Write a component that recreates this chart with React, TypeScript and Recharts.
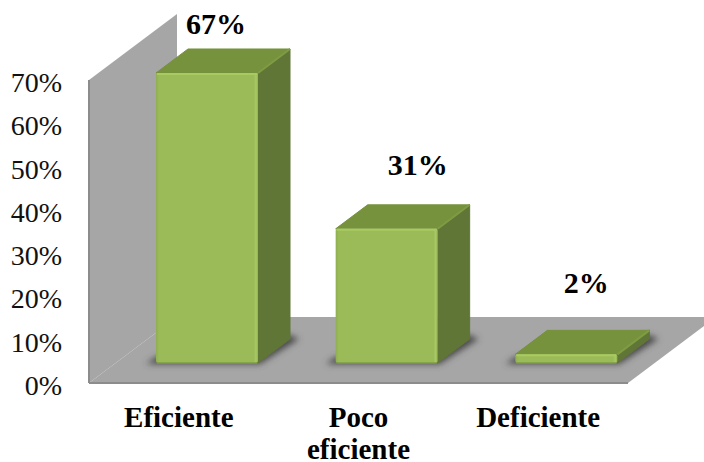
import React from 'react';
import { BarChart, Bar, XAxis, YAxis, ReferenceArea, LabelList } from 'recharts';

const categories = ['Eficiente', 'Poco eficiente', 'Deficiente'];
const shares = [67, 31, 2];
const yTicks = [0, 10, 20, 30, 40, 50, 60, 70];

const data = categories.map((name, i) => ({ name, share: shares[i] }));

// Pseudo-3D box geometry, in pixels
const WALL_DX = 88;
const WALL_DY = 66;
const BAR_SHIFT_X = 28;
const BAR_SHIFT_Y = 20;
const BOX_DX = 32;
const BOX_DY = 24;

// Hand-placed value labels: offset from the top-centre of each bar's front face
const labelNudge = [
  { dx: 9, dy: -39 },
  { dx: 31, dy: -54 },
  { dx: 20, dy: -61 },
];

const SERIF = '"Liberation Serif", "Times New Roman", serif';

// Back wall and floor of the 3D plot box
const Backdrop = ({ x, y, width, height }: any) => {
  const bottom = y + height;
  const right = x + width;
  return (
    <g>
      <defs>
        <filter id="floorShadow" x="-30%" y="-60%" width="160%" height="220%">
          <feGaussianBlur stdDeviation="3" />
        </filter>
        <linearGradient id="frontFace" x1="0" y1="0" x2="1" y2="0">
          <stop offset="0" stopColor="#8fae50" />
          <stop offset="0.03" stopColor="#9bbb59" />
          <stop offset="0.96" stopColor="#9bbb59" />
          <stop offset="0.98" stopColor="#a8ca62" />
          <stop offset="1" stopColor="#93b254" />
        </linearGradient>
      </defs>
      <polygon
        points={`${x},${y} ${x + WALL_DX},${y - WALL_DY} ${x + WALL_DX},${bottom - WALL_DY} ${x},${bottom}`}
        fill="#a6a6a6"
      />
      <polygon
        points={`${x},${bottom} ${x + WALL_DX},${bottom - WALL_DY} ${right + WALL_DX},${bottom - WALL_DY} ${right},${bottom}`}
        fill="#a6a6a6"
      />
      <line x1={x} y1={y} x2={x} y2={bottom} stroke="#8c8c8c" strokeWidth={2} />
      <line x1={x} y1={bottom} x2={right} y2={bottom} stroke="#8c8c8c" strokeWidth={2} />
    </g>
  );
};

// Extruded bar: floor shadow, top and side faces, then the front face
const BoxBar = ({ x, y, width, height }: any) => {
  const fx = x + BAR_SHIFT_X;
  const fy = y - BAR_SHIFT_Y;
  const fr = fx + width;
  const base = fy + height;
  return (
    <g>
      <polygon
        points={`${fx - 10},${base + 1} ${fr + 2},${base + 1} ${fr + BOX_DX + 9},${base - BOX_DY} ${fr + BOX_DX},${base - BOX_DY - 4} ${fx},${base - 6}`}
        fill="#4a4a4a"
        filter="url(#floorShadow)"
      />
      <polygon
        points={`${fx},${fy} ${fx + BOX_DX},${fy - BOX_DY} ${fr + BOX_DX},${fy - BOX_DY} ${fr},${fy}`}
        fill="#76923c"
        stroke="#76923c"
        strokeWidth={1}
        strokeLinejoin="round"
      />
      <polygon
        points={`${fr},${fy} ${fr + BOX_DX},${fy - BOX_DY} ${fr + BOX_DX},${base - BOX_DY} ${fr},${base}`}
        fill="#607637"
        stroke="#607637"
        strokeWidth={1}
        strokeLinejoin="round"
      />
      <line x1={fr} y1={fy} x2={fr + BOX_DX} y2={fy - BOX_DY} stroke="#7f9c44" strokeWidth={2} />
      <rect x={fx} y={fy} width={width} height={height} rx={2} fill="url(#frontFace)" />
      <line x1={fx + 1} y1={fy + 1} x2={fr - 1} y2={fy + 1} stroke="#a8ca62" strokeWidth={2} />
      <line x1={fx + 1} y1={base} x2={fr - 1} y2={base} stroke="#7f9c44" strokeWidth={1.5} />
    </g>
  );
};

const ValueLabel = ({ x, y, width, index, value }: any) => {
  const nudge = labelNudge[index];
  return (
    <text
      x={x + width / 2 + BAR_SHIFT_X + nudge.dx}
      y={y - BAR_SHIFT_Y + nudge.dy}
      textAnchor="middle"
      fontFamily={SERIF}
      fontWeight="bold"
      fontSize={30}
      fill="#000"
    >
      {`${value}%`}
    </text>
  );
};

// Category label, broken onto two lines when it has a space
const CategoryTick = ({ x, y, payload }: any) => {
  const lines = String(payload.value).split(' ');
  return (
    <text
      x={x}
      y={y + 36}
      textAnchor="middle"
      fontFamily={SERIF}
      fontWeight="bold"
      fontSize={29}
      fill="#000"
    >
      {lines.map((line, i) => (
        <tspan key={line} x={x} dy={i === 0 ? 0 : 32}>
          {line}
        </tspan>
      ))}
    </text>
  );
};

const PercentTick = ({ x, y, payload }: any) => (
  <text x={62} y={y + 12} textAnchor="end" fontFamily={SERIF} fontSize={28} fill="#111">
    {`${payload.value}%`}
  </text>
);

export default function App() {
  return (
    <div style={{ position: 'absolute', left: 0, top: 0, width: 704, height: 462, background: '#fff', overflow: 'hidden' }}>
      <BarChart
        width={704}
        height={462}
        data={data}
        margin={{ top: 80, right: 76, bottom: 0, left: 0 }}
        barCategoryGap="20%"
        style={{ overflow: 'visible' }}
      >
        <XAxis dataKey="name" height={79} axisLine={false} tickLine={false} tick={<CategoryTick />} interval={0} />
        <YAxis
          width={89}
          domain={[0, 70]}
          ticks={yTicks}
          axisLine={false}
          tickLine={false}
          tick={<PercentTick />}
          interval={0}
        />
        <ReferenceArea y1={0} y2={70} ifOverflow="visible" shape={<Backdrop />} />
        <Bar dataKey="share" barSize={102} isAnimationActive={false} shape={<BoxBar />}>
          <LabelList dataKey="share" content={<ValueLabel />} />
        </Bar>
      </BarChart>
    </div>
  );
}
